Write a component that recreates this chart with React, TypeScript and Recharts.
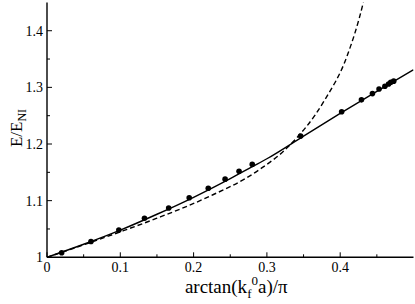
import React from "react";
import { ComposedChart, Line, Scatter, XAxis, YAxis } from "recharts";

// ---- data ----
const dotX = [0.02, 0.06, 0.098, 0.133, 0.166, 0.194, 0.22, 0.243, 0.262, 0.28, 0.346, 0.402, 0.429, 0.444, 0.453, 0.461, 0.466, 0.469, 0.473];
const dotY = [1.008, 1.028, 1.048, 1.069, 1.087, 1.105, 1.122, 1.138, 1.152, 1.164, 1.214, 1.257, 1.278, 1.289, 1.297, 1.302, 1.306, 1.309, 1.311];

const solidX = [0, 0.05, 0.1, 0.15, 0.2, 0.25, 0.28, 0.3, 0.35, 0.4, 0.45, 0.5];
const solidY = [1.0, 1.023, 1.048, 1.076, 1.106, 1.139, 1.16, 1.174, 1.214, 1.254, 1.293, 1.331];

const dashX = [0, 0.05, 0.1, 0.15, 0.2156, 0.29, 0.329, 0.379, 0.409, 0.4315, 0.44];
const dashY = [1.0, 1.022, 1.045, 1.069, 1.104, 1.155, 1.195, 1.278, 1.354, 1.45, 1.5];

const xMajorTicks = [0, 0.1, 0.2, 0.3, 0.4];
const xMajorLabels = ["0", "0.1", "0.2", "0.3", "0.4"];
const xMinorTicks = [0.05, 0.15, 0.25, 0.35, 0.45];
const yMajorTicks = [1.0, 1.1, 1.2, 1.3, 1.4];
const yMajorLabels = ["1", "1.1", "1.2", "1.3", "1.4"];
const yMinorTicks = [1.05, 1.15, 1.25, 1.35];

const xDomain = [0, 0.5];
const yDomain = [1, 1.45];

const dots = dotX.map((x, i) => ({ x, y: dotY[i] }));
const solid = solidX.map((x, i) => ({ x, y: solidY[i] }));
const dashed = dashX.map((x, i) => ({ x, y: dashY[i] }));

const FONT = "'Liberation Serif', 'Times New Roman', serif";
const MAJ = 5;
const MIN = 3;

const labelOf = (v: number, majors: number[], labels: string[]) => {
  const i = majors.findIndex((m) => Math.abs(m - v) < 1e-9);
  return i >= 0 ? labels[i] : null;
};

const BottomTick = (p: any) => {
  const { x, y, payload } = p;
  const lab = labelOf(payload.value, xMajorTicks, xMajorLabels);
  return (
    <g>
      <line x1={x} x2={x} y1={y} y2={y - (lab ? MAJ : MIN)} stroke="#000" strokeWidth={1} />
      {lab && (
        <text x={x} y={y + 15} textAnchor="middle" fontSize={14} fontFamily={FONT} fill="#000">
          {lab}
        </text>
      )}
    </g>
  );
};

const TopTick = (p: any) => {
  const { x, y, payload } = p;
  const lab = labelOf(payload.value, xMajorTicks, xMajorLabels);
  return <line x1={x} x2={x} y1={y} y2={y + (lab ? MAJ : MIN)} stroke="#000" strokeWidth={1} />;
};

const LeftTick = (p: any) => {
  const { x, y, payload } = p;
  const lab = labelOf(payload.value, yMajorTicks, yMajorLabels);
  return (
    <g>
      <line x1={x} x2={x + (lab ? MAJ : MIN)} y1={y} y2={y} stroke="#000" strokeWidth={1} />
      {lab && (
        <text x={x - 4} y={y + 5} textAnchor="end" fontSize={14} fontFamily={FONT} fill="#000">
          {lab}
        </text>
      )}
    </g>
  );
};

const RightTick = (p: any) => {
  const { x, y, payload } = p;
  const lab = labelOf(payload.value, yMajorTicks, yMajorLabels);
  return <line x1={x} x2={x - (lab ? MAJ : MIN)} y1={y} y2={y} stroke="#000" strokeWidth={1} />;
};

const YTitle = (p: any) => {
  const vb = p.viewBox || { x: 0, y: 0, width: 47, height: 255 };
  const cx = vb.x + 22;
  const cy = 128;
  return (
    <text transform={`rotate(-90 ${cx} ${cy})`} x={cx} y={cy} textAnchor="middle" fontSize={17} fontFamily={FONT} fill="#000">
      E/E<tspan dy={4} fontSize={12}>NI</tspan>
    </text>
  );
};

const XTitle = (p: any) => {
  const vb = p.viewBox || { x: 47, y: 257, width: 366, height: 47 };
  const cx = vb.x + vb.width / 2 + 6;
  const by = vb.y + 36;
  return (
    <text x={cx} y={by} textAnchor="middle" fontSize={19} fontFamily={FONT} fill="#000">
      arctan(k<tspan dy={5} fontSize={13}>f</tspan>
      <tspan dy={-13} fontSize={13}>0</tspan>
      <tspan dy={8}>a)/π</tspan>
    </text>
  );
};

const Dot = (p: any) => <circle cx={p.cx} cy={p.cy} r={2.8} fill="#000" />;

export default function App() {
  const xTicks = [...xMajorTicks, ...xMinorTicks].sort((a, b) => a - b);
  const yTicks = [...yMajorTicks, ...yMinorTicks].sort((a, b) => a - b);
  return (
    <div style={{ position: "absolute", left: 0, top: 0, width: 415, height: 304, background: "#fff" }}>
      <ComposedChart width={415} height={304} margin={{ top: 2.4, right: 1.5, bottom: 0, left: 0 }}>
        <XAxis
          xAxisId="b"
          dataKey="x"
          type="number"
          domain={xDomain}
          ticks={xTicks}
          allowDataOverflow
          height={46.7}
          tickSize={0}
          tickMargin={0}
          tickLine={false}
          interval={0}
          axisLine={{ stroke: "#000", strokeWidth: 1.4 }}
          tick={<BottomTick />}
          label={<XTitle />}
        />
        <XAxis
          xAxisId="t"
          orientation="top"
          dataKey="x"
          type="number"
          domain={xDomain}
          ticks={xTicks}
          allowDataOverflow
          height={0}
          tickSize={0}
          tickMargin={0}
          tickLine={false}
          interval={0}
          axisLine={{ stroke: "#000", strokeWidth: 1.4 }}
          tick={<TopTick />}
        />
        <YAxis
          yAxisId="l"
          type="number"
          domain={yDomain}
          ticks={yTicks}
          allowDataOverflow
          width={47}
          tickSize={0}
          tickMargin={0}
          tickLine={false}
          interval={0}
          axisLine={{ stroke: "#000", strokeWidth: 1.4 }}
          tick={<LeftTick />}
          label={<YTitle />}
        />
        <YAxis
          yAxisId="r"
          orientation="right"
          type="number"
          domain={yDomain}
          ticks={yTicks}
          allowDataOverflow
          width={0}
          tickSize={0}
          tickMargin={0}
          tickLine={false}
          interval={0}
          axisLine={{ stroke: "#000", strokeWidth: 1.4 }}
          tick={<RightTick />}
        />
        <Line
          xAxisId="b"
          yAxisId="l"
          data={dashed}
          dataKey="y"
          type="monotone"
          stroke="#000"
          strokeWidth={1.4}
          strokeDasharray="5 3"
          dot={false}
          activeDot={false}
          isAnimationActive={false}
        />
        <Line
          xAxisId="b"
          yAxisId="l"
          data={solid}
          dataKey="y"
          type="monotone"
          stroke="#000"
          strokeWidth={1.4}
          dot={false}
          activeDot={false}
          isAnimationActive={false}
        />
        <Scatter
          xAxisId="b"
          yAxisId="l"
          data={dots}
          dataKey="y"
          fill="#000"
          shape={<Dot />}
          isAnimationActive={false}
        />
      </ComposedChart>
    </div>
  );
}
